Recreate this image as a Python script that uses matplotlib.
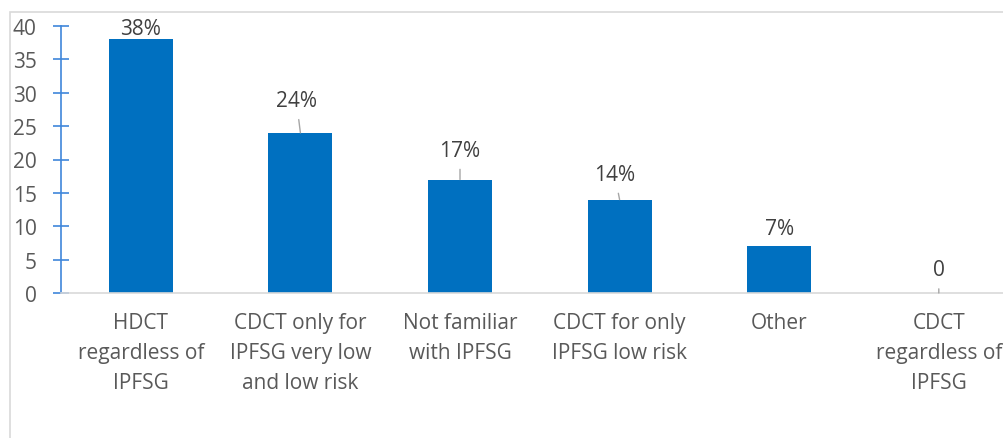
import matplotlib
matplotlib.use("Agg")
import matplotlib.pyplot as plt
from matplotlib.patches import Rectangle

categories = [
    "HDCT\nregardless of\nIPFSG",
    "CDCT only for\nIPFSG very low\nand low risk",
    "Not familiar\nwith IPFSG",
    "CDCT for only\nIPFSG low risk",
    "Other",
    "CDCT\nregardless of\nIPFSG",
]
values = [38, 24, 17, 14, 7, 0]
value_labels = ["38%", "24%", "17%", "14%", "7%", "0"]
yticks = [0, 5, 10, 15, 20, 25, 30, 35, 40]

# label placement above each bar (offset in pixels: dx, dy)
label_offsets = [(0, 11), (-4, 32), (0, 29), (-5, 25), (0, 18), (0, 23)]

BAR = "#0070C0"
AXIS_BLUE = "#3F86DA"
GRID_GRAY = "#D9D9D9"
TXT = "#595959"
LBL = "#404040"
FS = 15

plt.rcParams["font.family"] = ["Open Sans", "DejaVu Sans"]

W, H = 1004, 439
fig = plt.figure(figsize=(W / 100, H / 100), dpi=100)

# outer chart frame
fig.patches.append(Rectangle((10 / W, -0.1), 1.2, (H - 13) / H + 0.1,
                             transform=fig.transFigure, fill=False,
                             edgecolor=GRID_GRAY, linewidth=1.2, zorder=0))

ax = fig.add_axes([61 / W, (H - 294) / H, 957.6 / W, 267 / H])
x = list(range(len(categories)))
ax.bar(x, values, width=0.4, color=BAR, zorder=2)

ax.set_xlim(-0.5, len(categories) - 0.5)
ax.set_ylim(0, 40)
ax.set_yticks(yticks)
ax.set_xticks(x)
ax.set_xticklabels(categories, fontsize=FS, color=TXT, linespacing=1.55)
ax.tick_params(axis="x", length=0, pad=14)
ax.tick_params(axis="y", direction="inout", length=11, width=1.2,
               color=AXIS_BLUE, labelsize=FS, labelcolor=TXT, pad=12)

for s in ("top", "right"):
    ax.spines[s].set_visible(False)
ax.spines["left"].set_color(AXIS_BLUE)
ax.spines["left"].set_linewidth(1.2)
ax.spines["bottom"].set_color(GRID_GRAY)
ax.spines["bottom"].set_linewidth(1.2)

for xi, v, lab, (dx, dy) in zip(x, values, value_labels, label_offsets):
    off = (dx * 0.72, dy * 0.72)
    arrow = None
    if dy > 20:
        arrow = dict(arrowstyle="-", color="#A6A6A6", lw=1.0,
                     shrinkA=4, shrinkB=0)
    ax.annotate(lab, xy=(xi, v), xytext=off, textcoords="offset points",
                ha="center", va="center", fontsize=FS, color=LBL,
                arrowprops=arrow, annotation_clip=False)

fig.savefig("out.png", dpi=100)
